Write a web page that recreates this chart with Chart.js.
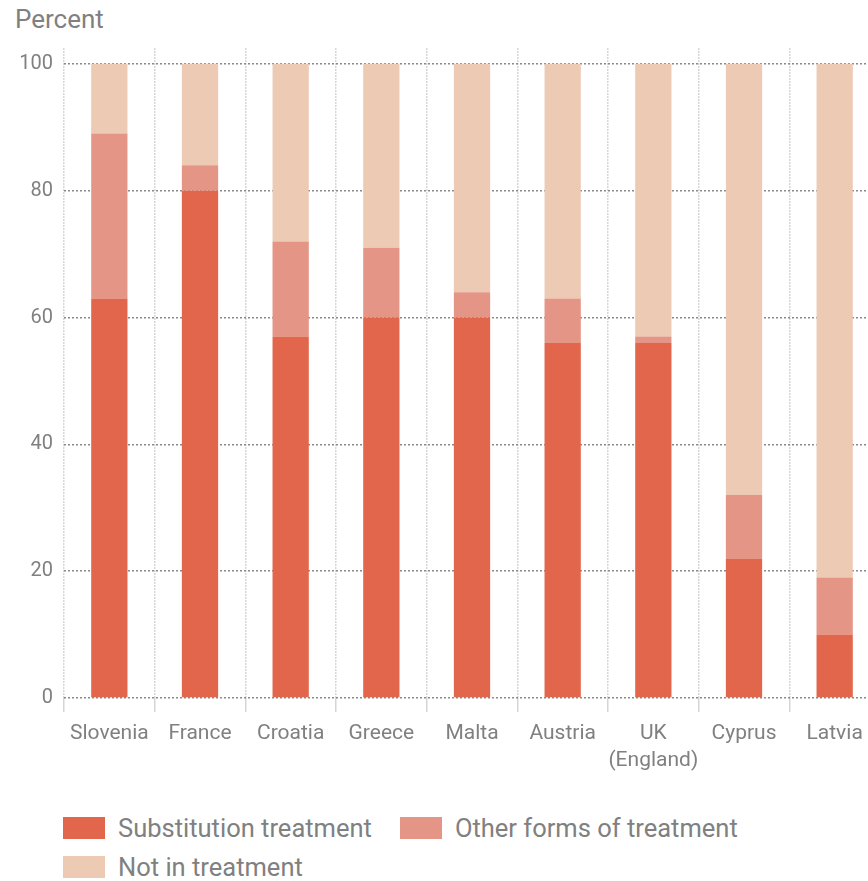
<!DOCTYPE html>
<html>
<head>
<meta charset="utf-8">
<script src="https://cdn.jsdelivr.net/npm/chart.js@4.4.1/dist/chart.umd.min.js"></script>
<style>
  html, body { margin: 0; padding: 0; background: #fff; overflow: hidden; width: 868px; height: 881px; }
  #title { position: absolute; left: 15px; top: 4px; font: 26px Roboto, sans-serif; color: #808080; }
  #wrap { position: absolute; left: 0; top: 0; width: 880px; height: 790px; }
  #legend { position: absolute; left: 63px; top: 813px; font: 25.5px Roboto, sans-serif; color: #808080; width: 800px; }
  .item { display: inline-flex; align-items: center; margin-right: 28px; height: 30px; margin-bottom: 9px; }
  .box { width: 42px; height: 22px; margin-right: 13px; display: inline-block; }
</style>
</head>
<body>
<div id="title">Percent</div>
<div id="wrap"><canvas id="c"></canvas></div>
<div id="legend"></div>
<script>
const categories = ['Slovenia', 'France', 'Croatia', 'Greece', 'Malta', 'Austria', ['UK', '(England)'], 'Cyprus', 'Latvia'];
const substitution = [63, 80, 57, 60, 60, 56, 56, 22, 10];
const otherForms   = [26, 4, 15, 11, 4, 7, 1, 10, 9];
const notInTreatment = [11, 16, 28, 29, 36, 37, 43, 68, 81];
const yTicks = [0, 20, 40, 60, 80, 100];
const seriesNames = ['Substitution treatment', 'Other forms of treatment', 'Not in treatment'];
const seriesColors = ['#e2664b', '#e59585', '#edcab4'];

const datasets = [substitution, otherForms, notInTreatment].map((d, i) => ({
  label: seriesNames[i],
  data: d,
  backgroundColor: seriesColors[i],
  borderWidth: 0,
  barPercentage: 0.4,
  categoryPercentage: 1.0
}));

new Chart(document.getElementById('c'), {
  type: 'bar',
  data: { labels: categories, datasets },
  options: {
    responsive: true,
    maintainAspectRatio: false,
    animation: false,
    layout: { padding: { top: 48, left: 0, right: 0, bottom: 0 } },
    plugins: { legend: { display: false }, tooltip: { enabled: false } },
    scales: {
      x: {
        stacked: true,
        afterFit: s => { s.height = 92; },
        grid: { offset: true, color: '#d6d6d6', lineWidth: 1.5, drawTicks: true, tickLength: 14, tickColor: '#d6d6d6' },
        border: { display: false, dash: [2, 1] },
        ticks: { color: '#808080', font: { family: 'Roboto, sans-serif', size: 21, lineHeight: 1.3 }, padding: 8, maxRotation: 0, autoSkip: false },
      },
      y: {
        stacked: true,
        min: 0,
        max: 102.5,
        afterFit: s => { s.width = 64; },
        afterBuildTicks: s => { s.ticks = yTicks.map(v => ({ value: v })); },
        grid: { color: '#8a8a8a', lineWidth: 1.5, drawTicks: false },
        border: { display: false, dash: [2, 2] },
        ticks: { color: '#808080', font: { family: 'Roboto, sans-serif', size: 20 }, padding: 11 }
      }
    }
  }
});

const lg = document.getElementById('legend');
seriesNames.forEach((n, i) => {
  const it = document.createElement('span');
  it.className = 'item';
  it.innerHTML = '<span class="box" style="background:' + seriesColors[i] + '"></span>' + n;
  lg.appendChild(it);
  if (i === 1) lg.appendChild(document.createElement('br'));
});
</script>
</body>
</html>
